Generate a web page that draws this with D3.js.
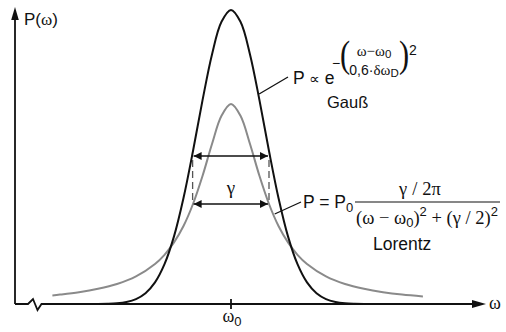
<!DOCTYPE html>
<html><head><meta charset="utf-8">
<script src="https://cdn.jsdelivr.net/npm/d3@7"></script>
<style>
html,body{margin:0;padding:0;background:#fff;}
svg{display:block;}
.sans{font-family:"Liberation Sans",Arial,sans-serif;}
.serif{font-family:"Liberation Serif","Times New Roman",serif;}
</style></head>
<body>
<svg id="chart" width="506" height="332"></svg>
<script>
// ---- data ----
const gaussOmega = [-3.5,-3.25,-3,-2.75,-2.5,-2.25,-2,-1.75,-1.5,-1.25,-1,-0.75,-0.5,-0.25,0,0.25,0.5,0.75,1,1.25,1.5,1.75,2,2.25,2.5,2.75,3,3.25,3.5];
const gaussP     = [0.0005,0.0015,0.0041,0.0105,0.0247,0.054,0.108,0.199,0.338,0.530,0.765,1.018,1.248,1.411,1.47,1.411,1.248,1.018,0.765,0.530,0.338,0.199,0.108,0.054,0.0247,0.0105,0.0041,0.0015,0.0005];
const lorentzOmega = [-4.7,-4.5,-4,-3.5,-3,-2.5,-2,-1.75,-1.5,-1.25,-1,-0.75,-0.5,-0.25,0,0.25,0.5,0.75,1,1.25,1.5,1.75,2,2.5,3,3.5,4,4.5,5.05];
const lorentzP     = [0.043,0.047,0.059,0.076,0.1,0.138,0.2,0.246,0.308,0.39,0.5,0.64,0.8,0.941,1,0.941,0.8,0.64,0.5,0.39,0.308,0.246,0.2,0.138,0.1,0.076,0.059,0.047,0.038];
const widthMarkerLevels = [0.74, 0.5];     // upper (Gauss) and lower (Lorentz, gamma) arrows
const widthMarkerOmega  = [-1.01, 1.0];
const dashRange = [0.72, 0.52];
const tickValues = [0];

// ---- scales ----
const x = d3.scaleLinear().domain([-5.684, 6.684]).range([15, 485]);
const y = d3.scaleLinear().domain([0, 1.5]).range([304, 4]);

const svg = d3.select("#chart");
const defs = svg.append("defs");
defs.append("marker").attr("id","ah").attr("viewBox","0 0 10 10").attr("refX",10).attr("refY",5)
  .attr("markerWidth",9).attr("markerHeight",8).attr("markerUnits","userSpaceOnUse").attr("orient","auto-start-reverse")
  .append("path").attr("d","M0,0 L10,5 L0,10 Z").attr("fill","#111");

// ---- axes ----
const x0 = x.range()[0], yb = y(0);
svg.append("line").attr("x1",x0).attr("x2",x0).attr("y1",yb).attr("y2",19)
  .attr("stroke","#111").attr("stroke-width",1.8);
svg.append("path").attr("d",`M${x0},7 L${x0+3.8},20 L${x0-3.8},20 Z`).attr("fill","#111");
svg.append("path").attr("d",`M${x0},${yb} L28,${yb} L33,${yb-5} L37.5,${yb+6} L41.5,${yb} L474,${yb}`)
  .attr("fill","none").attr("stroke","#111").attr("stroke-width",1.8).attr("stroke-linejoin","miter");
svg.append("path").attr("d",`M486,${yb} L472,${yb-4} L472,${yb+4} Z`).attr("fill","#111");
svg.selectAll(".tick").data(tickValues).enter().append("line")
  .attr("x1",d=>x(d)).attr("x2",d=>x(d)).attr("y1",yb-5).attr("y2",yb+5)
  .attr("stroke","#111").attr("stroke-width",1.8);

// axis labels
const pl = svg.append("text").attr("x",24).attr("y",25).attr("font-size",17).attr("class","sans").attr("fill","#111");
pl.append("tspan").text("P(");
pl.append("tspan").attr("class","serif").text("ω");
pl.append("tspan").text(")");
svg.append("text").attr("x",489).attr("y",309).attr("font-size",18).attr("class","serif").attr("fill","#111").text("ω");
const w0 = svg.append("text").attr("x",x(0)-8.5).attr("y",322).attr("font-size",18).attr("class","serif").attr("fill","#111");
w0.append("tspan").text("ω");
w0.append("tspan").attr("class","sans").attr("font-size",13).attr("dy",4).text("0");

// ---- curves ----
const line = d3.line().x(d=>x(d[0])).y(d=>y(d[1])).curve(d3.curveCatmullRom.alpha(0.5));
svg.append("path").datum(lorentzOmega.map((w,i)=>[w,lorentzP[i]])).attr("d",line)
  .attr("fill","none").attr("stroke","#8a8a8a").attr("stroke-width",2);
svg.append("path").datum(gaussOmega.map((w,i)=>[w,gaussP[i]])).attr("d",line)
  .attr("fill","none").attr("stroke","#111").attr("stroke-width",2);

// ---- width markers ----
svg.selectAll(".wm").data(widthMarkerLevels).enter().append("line")
  .attr("x1",x(widthMarkerOmega[0])+1).attr("x2",x(widthMarkerOmega[1])-1)
  .attr("y1",d=>y(d)).attr("y2",d=>y(d))
  .attr("stroke","#111").attr("stroke-width",1.5)
  .attr("marker-start","url(#ah)").attr("marker-end","url(#ah)");
svg.selectAll(".dash").data(widthMarkerOmega).enter().append("line")
  .attr("x1",d=>x(d)).attr("x2",d=>x(d)).attr("y1",y(dashRange[0])).attr("y2",y(dashRange[1]))
  .attr("stroke","#555").attr("stroke-width",1.3).attr("stroke-dasharray","7,4");
svg.append("text").attr("x",x(0)).attr("y",194).attr("text-anchor","middle").attr("font-size",19)
  .attr("class","serif").attr("fill","#111").text("γ");

// ---- leader lines ----
svg.append("line").attr("x1",x(0.74)).attr("y1",y(1.05)).attr("x2",288).attr("y2",77).attr("stroke","#111").attr("stroke-width",1.3);
svg.append("line").attr("x1",x(1.15)).attr("y1",y(0.45)).attr("x2",301).attr("y2",202).attr("stroke","#111").attr("stroke-width",1.3);

// ---- Gauss formula ----
const g1 = svg.append("text").attr("x",293).attr("y",84).attr("font-size",17.5).attr("class","sans").attr("fill","#111");
g1.append("tspan").text("P ");
g1.append("tspan").attr("font-family","DejaVu Sans").attr("font-size",15).text("∝");
g1.append("tspan").text(" e");
svg.append("text").attr("x",332).attr("y",68).attr("font-size",14).attr("class","sans").attr("fill","#111").text("−");
svg.append("text").attr("x",340).attr("y",67).attr("font-size",38).attr("class","serif")
  .attr("transform","translate(340,0) scale(0.8,1) translate(-340,0)").attr("fill","#111").text("(");
svg.append("text").attr("x",399).attr("y",67).attr("font-size",38).attr("class","serif")
  .attr("transform","translate(399,0) scale(0.8,1) translate(-399,0)").attr("fill","#111").text(")");
svg.append("text").attr("x",409).attr("y",55).attr("font-size",14).attr("class","sans").attr("fill","#111").text("2");
const gn = svg.append("text").attr("x",374).attr("y",56).attr("text-anchor","middle").attr("font-size",15).attr("class","serif").attr("fill","#111");
gn.append("tspan").text("ω−ω");
gn.append("tspan").attr("class","sans").attr("font-size",11.5).attr("dy",2).text("0");
const gd = svg.append("text").attr("x",374).attr("y",74.5).attr("text-anchor","middle").attr("font-size",14).attr("class","sans").attr("fill","#111");
gd.append("tspan").text("0,6·");
gd.append("tspan").attr("class","serif").attr("font-size",15).text("δω");
gd.append("tspan").attr("font-size",11.5).attr("dy",2).text("D");
svg.append("text").attr("x",327).attr("y",108).attr("font-size",16.5).attr("class","sans").attr("fill","#111").text("Gauß");

// ---- Lorentz formula ----
const l1 = svg.append("text").attr("x",303).attr("y",208).attr("font-size",17.5).attr("class","sans").attr("fill","#111");
l1.append("tspan").text("P = P");
l1.append("tspan").attr("font-size",13).attr("dy",4).text("0");
svg.append("line").attr("x1",355).attr("x2",500).attr("y1",202).attr("y2",202).attr("stroke","#111").attr("stroke-width",1.2);
const ln = svg.append("text").attr("x",420).attr("y",195).attr("text-anchor","middle").attr("font-size",18.5).attr("class","serif")
  .attr("fill","#111");
ln.append("tspan").text("γ");
ln.append("tspan").attr("dx",5).text("/");
ln.append("tspan").attr("dx",5).text("2π");
const ld = svg.append("text").attr("x",356).attr("y",224).attr("font-size",18.5).attr("class","serif").attr("fill","#111");
ld.append("tspan").text("(ω − ω");
ld.append("tspan").attr("class","sans").attr("font-size",13).attr("dy",3).text("0");
ld.append("tspan").attr("dy",-3).text(")");
ld.append("tspan").attr("class","sans").attr("font-size",13).attr("dy",-8).text("2");
ld.append("tspan").attr("dy",8).text(" + (γ / 2)");
ld.append("tspan").attr("class","sans").attr("font-size",13).attr("dy",-8).text("2");
svg.append("text").attr("x",373).attr("y",250).attr("font-size",17.5).attr("class","sans").attr("fill","#111").text("Lorentz");
</script>
</body></html>
